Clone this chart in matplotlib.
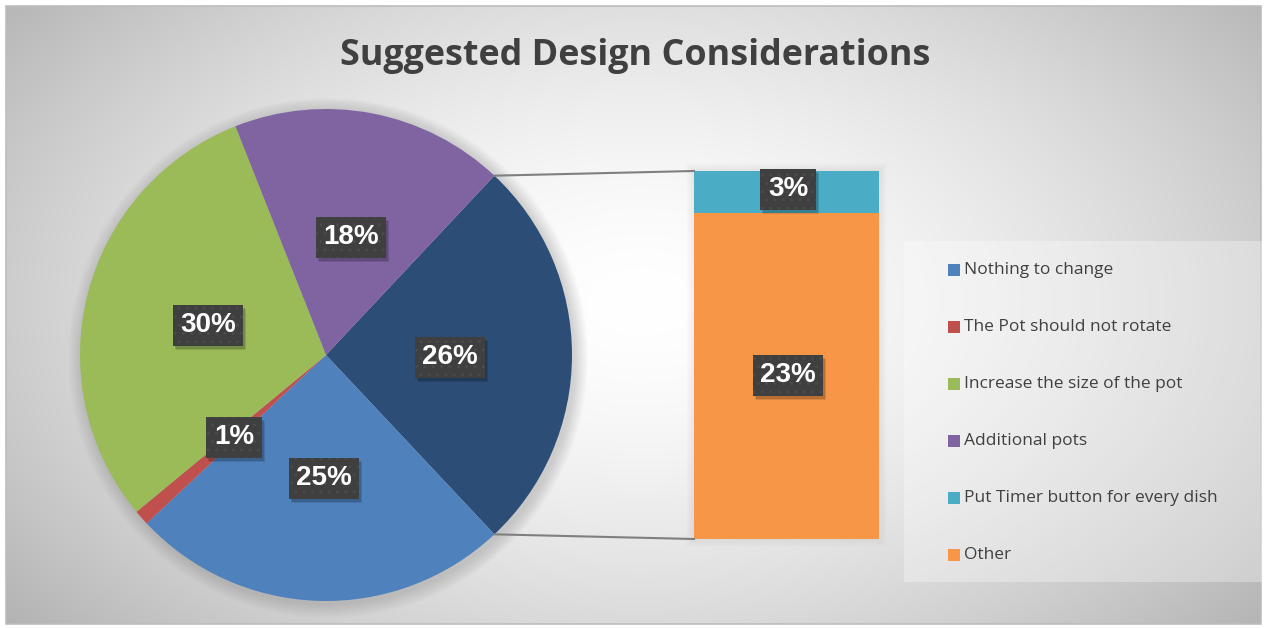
import numpy as np
import matplotlib
matplotlib.use("Agg")
import matplotlib.pyplot as plt
from matplotlib.patches import Rectangle, Circle

# pie slices (the last one is split out into the bar)
pie_labels = ["Nothing to change", "The Pot should not rotate",
              "Increase the size of the pot", "Additional pots"]
pie_values = [25, 1, 30, 18]
bar_labels = ["Put Timer button for every dish", "Other"]
bar_values = [3, 23]

pie_colors = ["#4F81BD", "#C0504D", "#9BBB59", "#8064A2"]
split_color = "#2C4D75"
bar_colors = ["#4BACC6", "#F79646"]

W, H = 1265, 628
fig = plt.figure(figsize=(W / 100, H / 100), dpi=100)
ax = fig.add_axes([0, 0, 1, 1])

# radial grey background
yy, xx = np.mgrid[0:H, 0:W]
d = np.sqrt(((xx - 640) / 760.0) ** 2 + ((yy - 300) / 470.0) ** 2)
shade = 1.0 - 0.26 * np.clip(d, 0, 1.3) ** 1.6
ax.imshow(np.dstack([shade] * 3), extent=(6, W - 4, 4, H - 6),
          origin="upper", zorder=0, interpolation="bilinear")
ax.add_patch(Rectangle((6, 4), W - 10, H - 10, fill=False,
                       edgecolor="#bdbdbd", lw=1.2, zorder=1))

# pie geometry
cx, cy, r = 326, H - 355, 246
other_total = sum(bar_values)
half = other_total / 100 * 360 / 2

# soft shadow around the pie
for k in range(14):
    ax.add_patch(Circle((cx + 2, cy - 3), r + 14 - k, color="#808080",
                        alpha=0.025, lw=0, zorder=2))

ax.pie([other_total] + pie_values, colors=[split_color] + pie_colors,
       startangle=half, counterclock=False, center=(cx, cy), radius=r,
       wedgeprops=dict(linewidth=0, zorder=3), frame=True)
ax.set_xlim(0, W)
ax.set_ylim(0, H)
ax.set_aspect("equal")
ax.axis("off")

# stacked bar for the split-out slice
bar_x, bar_w = 786.5, 185
bar_bottom, bar_top = H - 539, H - 171
scale = (bar_top - bar_bottom) / other_total
for k in range(8):
    ax.add_patch(Rectangle((bar_x - bar_w / 2 - 8 + k, bar_bottom - 8 + k),
                           bar_w + 16 - 2 * k, bar_top - bar_bottom + 16 - 2 * k,
                           fc="#a0a0a0", alpha=0.015, lw=0, zorder=2))
bottom = bar_bottom
for v, c in zip(bar_values[::-1], bar_colors[::-1]):
    ax.bar(bar_x, v * scale, width=bar_w, bottom=bottom, color=c,
           lw=0, zorder=3)
    bottom += v * scale

# connector lines from the slice to the bar
for sgn, by in ((1, bar_top), (-1, bar_bottom)):
    a = np.radians(sgn * half)
    ax.plot([cx + r * np.cos(a), bar_x - bar_w / 2],
            [cy + r * np.sin(a), by], color="#7f7f7f", lw=1.5, zorder=3)


def value_label(x, y, txt):
    y = H - y
    kw = dict(ha="center", va="center", fontsize=20, fontweight="bold",
              family="Liberation Sans")
    for dx, dy, al in ((3, -4, 0.12), (2, -3, 0.15)):
        ax.text(x + dx, y + dy, txt, color="#000000", alpha=0.0, zorder=5,
                bbox=dict(boxstyle="square,pad=0.27", fc="#000000", ec="none",
                          alpha=al), **kw)
    ax.text(x, y, txt, color="white", zorder=6,
            bbox=dict(boxstyle="square,pad=0.27", fc="#3f3f3f",
                      ec="#4a4a4a", lw=0, hatch=".."), **kw)


pie_pos = [(324, 478), (234, 437), (208, 325), (351, 237)]
for (x, y), v in zip(pie_pos, pie_values):
    value_label(x, y, f"{v}%")
value_label(450, 357, f"{other_total}%")
value_label(788, 189, f"{bar_values[0]}%")
value_label(788, 375, f"{bar_values[1]}%")

# title
ax.text(635, H - 56, "Suggested Design Considerations", ha="center",
        va="center", fontsize=25.8, fontweight="bold", color="#404040",
        family="Open Sans")

# legend
ax.add_patch(Rectangle((904, H - 582), 358, 341, fc="white", alpha=0.3,
                       lw=0, zorder=3))
leg_labels = pie_labels + bar_labels
leg_colors = pie_colors + bar_colors
for i, (lab, c) in enumerate(zip(leg_labels, leg_colors)):
    y = H - (270 + i * 57)
    ax.add_patch(Rectangle((948, y - 6), 12, 12, fc=c, lw=0, zorder=4))
    ax.text(964, y, lab, ha="left", va="center", fontsize=12.5,
            color="#404040", family="Open Sans", zorder=4)

fig.savefig("out.png", dpi=100)
